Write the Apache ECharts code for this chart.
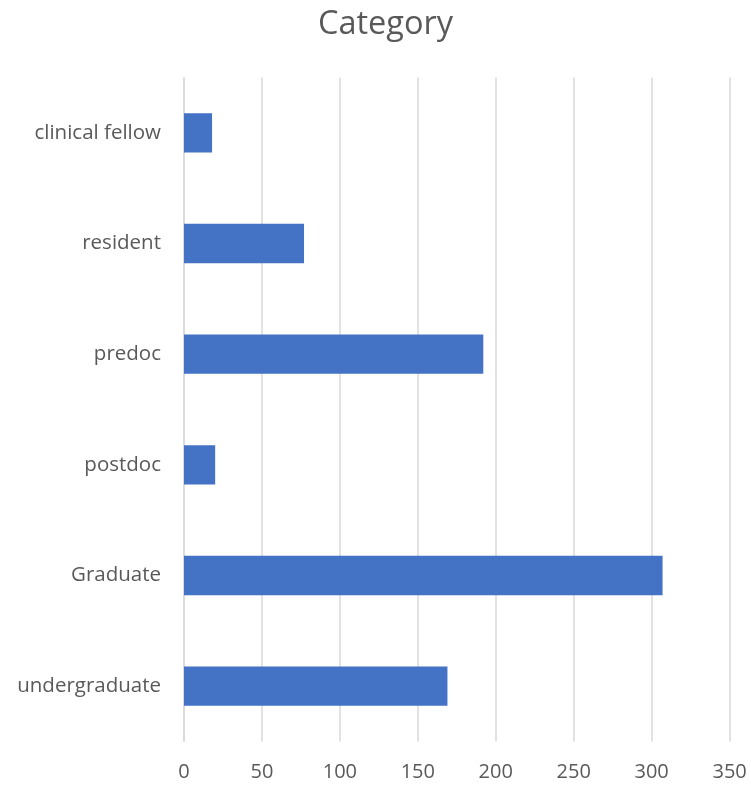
<!DOCTYPE html>
<html>
<head>
<meta charset="utf-8">
<script src="https://cdn.jsdelivr.net/npm/echarts@6/dist/echarts.min.js"></script>
<style>
html,body{margin:0;padding:0;background:#fff;}
#chart{width:751px;height:786px;}
</style>
</head>
<body>
<div id="chart"></div>
<script>
const categories = ['clinical fellow', 'resident', 'predoc', 'postdoc', 'Graduate', 'undergraduate'];
const counts = [18, 77, 192, 20, 307, 169];
const xTicks = { min: 0, max: 350, interval: 50 };
const titleText = 'Category';

const chart = echarts.init(document.getElementById('chart'), null, { renderer: 'canvas' });
const font = '"Open Sans", Lato, sans-serif';
chart.setOption({
  animation: false,
  backgroundColor: '#ffffff',
  title: {
    text: titleText,
    left: 313,
    top: 3,
    textStyle: { fontFamily: font, fontSize: 32.5, fontWeight: 'normal', color: '#595959' }
  },
  grid: { left: 184, right: 21.4, top: 77.5, bottom: 44.5, containLabel: false },
  xAxis: {
    type: 'value',
    min: xTicks.min, max: xTicks.max, interval: xTicks.interval,
    axisLine: { show: false },
    axisTick: { show: false },
    axisLabel: { fontFamily: font, fontSize: 20, color: '#595959', margin: 21 },
    splitLine: { show: true, lineStyle: { color: '#d9d9d9', width: 1.5 } }
  },
  yAxis: {
    type: 'category',
    data: categories,
    inverse: true,
    axisLine: { show: true, lineStyle: { color: '#d9d9d9', width: 1.5 } },
    axisTick: { show: false },
    axisLabel: { fontFamily: font, fontSize: 20.5, color: '#595959', margin: 23 }
  },
  series: [{
    type: 'bar',
    data: counts,
    barCategoryGap: '64.5%',
    itemStyle: { color: '#4472C4' }
  }]
});
</script>
</body>
</html>
